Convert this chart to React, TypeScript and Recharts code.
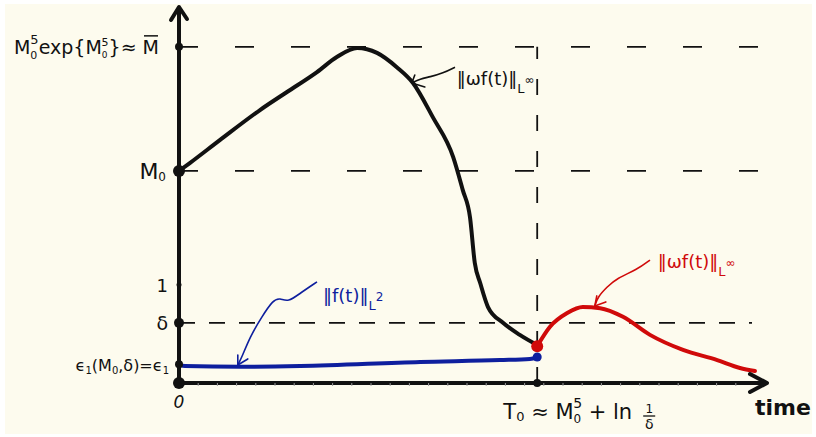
import React from 'react';
import { ComposedChart, Line, XAxis, YAxis, ReferenceLine, ReferenceDot } from 'recharts';

const FONT = '"DejaVu Sans", sans-serif';
const INK = '#111111';
const BLUE = '#0e1f9e';
const RED = '#d00a0a';

const X_MAX = 9.8;
const Y_MAX = 10;
const T0 = 5.97;

// levels marked on the vertical axis
const LEVEL_MBAR = 8.94;
const LEVEL_M0 = 5.64;
const LEVEL_ONE = 2.61;
const LEVEL_DELTA = 1.6;
const LEVEL_EPS = 0.5;

const yTicks = [LEVEL_EPS, LEVEL_DELTA, LEVEL_ONE, LEVEL_M0, LEVEL_MBAR];
// little hash marks along the time axis
const hashTicks = Array.from({ length: 29 }, (_, i) => Number(((i + 1) * 0.32).toFixed(2)));
const xTicks = [0, T0, ...hashTicks];

// ||w f(t)||_{L^inf} before T0
const vorticityBefore = [
  { t: 0, v: 5.64 },
  { t: 0.18, v: 5.85 },
  { t: 0.68, v: 6.46 },
  { t: 1.35, v: 7.26 },
  { t: 1.8, v: 7.74 },
  { t: 2.3, v: 8.27 },
  { t: 2.63, v: 8.67 },
  { t: 2.97, v: 8.91 },
  { t: 3.3, v: 8.78 },
  { t: 3.63, v: 8.4 },
  { t: 3.9, v: 7.98 },
  { t: 4.23, v: 7.07 },
  { t: 4.57, v: 6.01 },
  { t: 4.73, v: 5.13 },
  { t: 4.85, v: 4.41 },
  { t: 4.93, v: 3.19 },
  { t: 5.02, v: 2.66 },
  { t: 5.15, v: 2.02 },
  { t: 5.4, v: 1.6 },
  { t: 5.68, v: 1.28 },
  { t: 5.97, v: 1.01 },
];

// ||f(t)||_{L^2}
const l2Norm = [
  { t: 0, v: 0.5 },
  { t: 0.1, v: 0.45 },
  { t: 1.02, v: 0.43 },
  { t: 2.02, v: 0.45 },
  { t: 4.02, v: 0.56 },
  { t: 5.35, v: 0.61 },
  { t: 5.85, v: 0.64 },
  { t: 5.97, v: 0.69 },
];

// ||w f(t)||_{L^inf} after T0
const vorticityAfter = [
  { t: 5.97, v: 0.98 },
  { t: 6.18, v: 1.49 },
  { t: 6.47, v: 1.86 },
  { t: 6.73, v: 2.02 },
  { t: 7.02, v: 1.99 },
  { t: 7.4, v: 1.76 },
  { t: 7.85, v: 1.28 },
  { t: 8.4, v: 0.88 },
  { t: 8.97, v: 0.61 },
  { t: 9.35, v: 0.4 },
  { t: 9.6, v: 0.32 },
];

// pointer strokes from the labels to the curves
const blackPointer = [
  { t: 4.6, v: 8.4 },
  { t: 4.4, v: 8.24 },
  { t: 4.18, v: 8.14 },
  { t: 4.02, v: 8.09 },
  { t: 3.88, v: 7.98 },
];
const bluePointer = [
  { t: 2.3, v: 2.69 },
  { t: 2.02, v: 2.39 },
  { t: 1.82, v: 2.15 },
  { t: 1.68, v: 2.26 },
  { t: 1.57, v: 2.21 },
  { t: 1.38, v: 1.76 },
  { t: 1.18, v: 1.22 },
  { t: 1.05, v: 0.69 },
  { t: 0.98, v: 0.48 },
];
const redPointer = [
  { t: 7.85, v: 3.27 },
  { t: 7.63, v: 3.01 },
  { t: 7.3, v: 2.79 },
  { t: 7.13, v: 2.55 },
  { t: 6.98, v: 2.29 },
  { t: 6.93, v: 2.05 },
];

function YTick(props: any) {
  const { x, y, payload } = props;
  const v = payload.value;
  const base = { fontFamily: FONT, fill: INK };
  if (v === LEVEL_MBAR) {
    const ex = x - 20;
    return (
      <g>
        <text x={ex} y={y + 7} textAnchor="end" fontSize={19} {...base}>
          M<tspan fontSize={11} dy={5}>0</tspan><tspan fontSize={13} dx={-7} dy={-15}>5</tspan>
          <tspan dy={10}>exp{'{'}M</tspan><tspan fontSize={9} dy={4}>0</tspan><tspan fontSize={11} dx={-6} dy={-12}>5</tspan>
          <tspan dy={8}>{'}'}≈ M</tspan>
        </text>
        <line x1={ex - 15} x2={ex - 1} y1={y - 11} y2={y - 11} stroke={INK} strokeWidth={1.5} />
      </g>
    );
  }
  if (v === LEVEL_M0) {
    return (
      <text x={x - 13} y={y + 8} textAnchor="end" fontSize={22} {...base}>
        M<tspan fontSize={12} dy={2}>0</tspan>
      </text>
    );
  }
  if (v === LEVEL_ONE) {
    return (
      <text x={x - 11} y={y + 7} textAnchor="end" fontSize={18} {...base}>1</text>
    );
  }
  if (v === LEVEL_DELTA) {
    return (
      <text x={x - 11} y={y + 7} textAnchor="end" fontSize={19} {...base}>δ</text>
    );
  }
  return (
    <text x={x - 10} y={y + 7} textAnchor="end" fontSize={16} {...base}>
      ϵ<tspan fontSize={10} dy={3}>1</tspan><tspan dy={-3}>(M</tspan><tspan fontSize={10} dy={3}>0</tspan>
      <tspan dy={-3}>,δ)=ϵ</tspan><tspan fontSize={10} dy={3}>1</tspan>
    </text>
  );
}

function XTick(props: any) {
  const { x, y, payload } = props;
  const v = payload.value;
  const base = { fontFamily: FONT, fill: INK };
  if (v === 0) {
    return (
      <text x={x} y={y + 25} textAnchor="middle" fontSize={17} fontStyle="italic" {...base}>0</text>
    );
  }
  if (v === T0) {
    const end = x + 95;
    const fx = x + 112;
    return (
      <g>
        <text x={end} y={y + 36} textAnchor="end" fontSize={21} {...base}>
          T<tspan fontSize={13} dy={2}>0</tspan><tspan dy={-2}> ≈ M</tspan>
          <tspan fontSize={12} dy={4}>0</tspan><tspan fontSize={14} dx={-8} dy={-15}>5</tspan>
          <tspan dy={11}> + ln</tspan>
        </text>
        <text x={fx} y={y + 30} textAnchor="middle" fontSize={12} {...base}>1</text>
        <line x1={fx - 6} x2={fx + 6} y1={y + 33} y2={y + 33} stroke={INK} strokeWidth={1.3} />
        <text x={fx} y={y + 46} textAnchor="middle" fontSize={14} {...base}>δ</text>
      </g>
    );
  }
  return <line x1={x} x2={x} y1={y} y2={y + 3} stroke="#9a9a9a" strokeWidth={1} />;
}

function arrowHead(color: string, dx1: number, dy1: number, dx2: number, dy2: number, width: number) {
  return (p: any) => (
    <path
      d={`M${p.cx + dx1},${p.cy + dy1} L${p.cx},${p.cy} L${p.cx + dx2},${p.cy + dy2}`}
      fill="none"
      stroke={color}
      strokeWidth={width}
      strokeLinecap="round"
      strokeLinejoin="round"
    />
  );
}

function normLabel(color: string, body: string, sup: string) {
  return (p: any) => (
    <text x={p.cx} y={p.cy} fontFamily={FONT} fontSize={18} fill={color}>
      {body}
      <tspan fontSize={13} dy={8}>L</tspan>
      <tspan fontSize={12} dy={-9}>{sup}</tspan>
    </text>
  );
}

const dashStyle = { stroke: INK, strokeWidth: 1.8 };

export default function App() {
  return (
    <div style={{ position: 'absolute', left: 0, top: 0, width: 816, height: 437, background: '#ffffff' }}>
      <div style={{ position: 'absolute', left: 5, top: 4, width: 807, height: 430, background: '#fdfbee' }} />
      <div style={{ position: 'absolute', left: 0, top: 0 }}>
        <ComposedChart width={816} height={437} margin={{ top: 7, right: 49, bottom: 0, left: 0 }}>
          <XAxis
            type="number"
            dataKey="t"
            domain={[0, X_MAX]}
            ticks={xTicks}
            interval={0}
            tick={(p: any) => <XTick {...p} />}
            tickLine={false}
            tickSize={0}
            tickMargin={0}
            axisLine={{ stroke: INK, strokeWidth: 4 }}
            height={54}
            allowDataOverflow
          />
          <YAxis
            type="number"
            domain={[0, Y_MAX]}
            ticks={yTicks}
            interval={0}
            tick={(p: any) => <YTick {...p} />}
            tickLine={false}
            tickSize={0}
            tickMargin={0}
            axisLine={{ stroke: INK, strokeWidth: 4 }}
            width={179}
            allowDataOverflow
          />

          <ReferenceLine segment={[{ x: 0, y: LEVEL_MBAR }, { x: 10.05, y: LEVEL_MBAR }]} ifOverflow="visible" {...dashStyle} strokeDasharray="19 37" />
          <ReferenceLine segment={[{ x: 0, y: LEVEL_M0 }, { x: 9.65, y: LEVEL_M0 }]} ifOverflow="visible" {...dashStyle} strokeDasharray="19 37" />
          <ReferenceLine segment={[{ x: 0, y: LEVEL_DELTA }, { x: 9.55, y: LEVEL_DELTA }]} ifOverflow="visible" {...dashStyle} strokeDasharray="16 14" />
          <ReferenceLine segment={[{ x: T0, y: 0 }, { x: T0, y: LEVEL_MBAR }]} ifOverflow="visible" {...dashStyle} strokeDasharray="16 20" />

          <Line data={blackPointer} dataKey="v" type="basis" stroke={INK} strokeWidth={1.6} dot={false} isAnimationActive={false} />
          <Line data={bluePointer} dataKey="v" type="basis" stroke={BLUE} strokeWidth={1.6} dot={false} isAnimationActive={false} />
          <Line data={redPointer} dataKey="v" type="basis" stroke={RED} strokeWidth={1.6} dot={false} isAnimationActive={false} />

          <Line data={vorticityBefore} dataKey="v" type="monotone" stroke={INK} strokeWidth={4} strokeLinecap="round" dot={false} isAnimationActive={false} />
          <Line data={l2Norm} dataKey="v" type="monotone" stroke={BLUE} strokeWidth={4} strokeLinecap="round" dot={false} isAnimationActive={false} />
          <Line data={vorticityAfter} dataKey="v" type="monotone" stroke={RED} strokeWidth={4} strokeLinecap="round" dot={false} isAnimationActive={false} />

          <ReferenceDot x={0} y={LEVEL_MBAR} r={4} fill={INK} stroke="none" />
          <ReferenceDot x={0} y={LEVEL_M0} r={6} fill={INK} stroke="none" />
          <ReferenceDot x={0} y={LEVEL_ONE} r={2.5} fill={INK} stroke="none" />
          <ReferenceDot x={0} y={LEVEL_DELTA} r={5} fill={INK} stroke="none" />
          <ReferenceDot x={0} y={LEVEL_EPS} r={4} fill={INK} stroke="none" />
          <ReferenceDot x={0} y={0} r={6} fill={INK} stroke="none" />
          <ReferenceDot x={T0} y={0} r={4} fill={INK} stroke="none" />
          <ReferenceDot x={T0} y={0.69} r={4.5} fill={BLUE} stroke="none" />
          <ReferenceDot x={T0} y={0.98} r={6} fill={RED} stroke="none" />

          <ReferenceDot x={X_MAX} y={0} ifOverflow="visible" shape={arrowHead(INK, -17, -9, -17, 9, 4)} />
          <ReferenceDot x={0} y={Y_MAX} ifOverflow="visible" shape={arrowHead(INK, -8, 13, 8, 12, 4)} />
          <ReferenceDot x={3.88} y={7.98} shape={arrowHead(INK, 3, -8, 13, 4, 1.6)} />
          <ReferenceDot x={0.98} y={0.48} shape={arrowHead(BLUE, 0, -10, 10, -6, 1.6)} />
          <ReferenceDot x={6.93} y={2.05} shape={arrowHead(RED, 2, -10, 11, -4, 1.6)} />

          <ReferenceDot x={4.63} y={7.93} shape={normLabel(INK, '‖ωf(t)‖', '∞')} />
          <ReferenceDot x={2.4} y={2.15} shape={normLabel(BLUE, '‖f(t)‖', '2')} />
          <ReferenceDot x={7.98} y={3.06} shape={normLabel(RED, '‖ωf(t)‖', '∞')} />
          <ReferenceDot
            x={X_MAX}
            y={0}
            ifOverflow="visible"
            shape={(p: any) => (
              <text x={p.cx - 12} y={p.cy + 32} fontFamily={FONT} fontSize={22} fontWeight="bold" fill={INK}>
                time
              </text>
            )}
          />
        </ComposedChart>
      </div>
    </div>
  );
}
